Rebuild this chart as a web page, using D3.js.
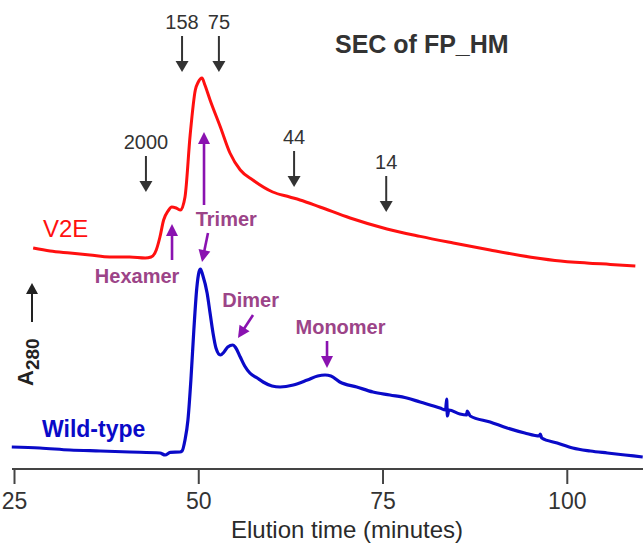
<!DOCTYPE html>
<html>
<head>
<meta charset="utf-8">
<script src="https://cdn.jsdelivr.net/npm/d3@7/dist/d3.min.js"></script>
<style>
  html, body { margin: 0; padding: 0; background: #fff; }
  svg { display: block; font-family: "Liberation Sans", Arial, sans-serif; }
</style>
</head>
<body>
<svg id="chart" width="643" height="545"></svg>
<script>
// Elution times (minutes) and A280 readings (arbitrary units) of the two SEC traces.
// The V2E trace is offset upward so both runs can be compared on one axis.
const wildTypeTime = [24.7, 28.5, 32.6, 36.7, 40.7, 44.8, 45.5, 46.2, 47.5, 47.8, 48.2, 48.6, 49.0, 49.4, 49.8, 50.1, 50.3, 50.6, 51.2, 51.6, 52.0, 52.4, 53.0, 53.5, 54.0, 54.7, 55.1, 55.7, 56.3, 57.0, 58.0, 58.8, 60.0, 61.1, 62.9, 64.8, 66.2, 67.2, 68.0, 69.2, 71.5, 73.7, 76.0, 78.3, 80.1, 82.8, 83.55, 83.7, 83.8, 84.0, 85.5, 86.4, 86.5, 86.9, 89.6, 91.9, 94.3, 96.3, 96.4, 96.6, 98.7, 100.8, 103.2, 105.5, 107.9, 110.3];
const wildTypeA280 = [11, 10.5, 9.5, 9, 8.5, 8, 7, 8.3, 8.5, 9, 14.5, 24.5, 44.5, 69.5, 90.5, 98.5, 100, 97, 88, 78, 68, 60.5, 57, 58.5, 61, 62, 60.5, 56, 51.5, 48, 45.5, 43.5, 41.5, 41, 42, 44.5, 46.5, 47, 46.5, 43.5, 41, 38.5, 37, 35.5, 33.5, 30.5, 29.5, 35, 26.5, 29.5, 27.5, 27, 29, 26.5, 23.5, 20.5, 18, 16.5, 17.5, 15.5, 13, 10.5, 9, 8, 7, 6];

const v2eTime = [27.6, 29.9, 32.6, 35.3, 38.0, 40.7, 42.8, 43.6, 44.3, 44.8, 45.3, 45.9, 46.4, 47.0, 47.6, 48.2, 48.9, 49.6, 50.0, 50.5, 50.9, 51.6, 53.0, 54.3, 55.7, 57.4, 60.1, 62.4, 63.8, 66.5, 70.6, 75.6, 80.1, 84.6, 89.6, 93.7, 98.4, 102.7, 105.9, 109.3];
const v2eA280 = [110.5, 109, 108, 107, 106, 106, 105.5, 106, 109.5, 116, 124.5, 129, 131, 130.5, 129.5, 136, 167, 189.5, 193.5, 195.5, 192, 184.5, 171, 158, 149.5, 144.5, 138.5, 136, 134.5, 131, 125.5, 120, 116.3, 113, 109.5, 106.8, 104.3, 103, 102.3, 101.5];

// Axis ticks
const xTicks = [25, 50, 75, 100];

// Molecular-mass standards (kDa) and their elution times
const standardLabels = ["2000", "158", "75", "44", "14"];
const standardTimes = [42.9, 47.8, 52.8, 63.0, 75.5];
const standardTipA280 = [138.5, 198.5, 198.5, 141, 128.5];

// Oligomeric species
const speciesLabels = ["Hexamer", "Trimer", "Dimer", "Monomer"];
const speciesLabelTime = [41.7, 53.8, 57.1, 69.3];
const speciesLabelA280 = [93, 121.5, 81, 67.5];

// Pointers to the species peaks: [tail time, tail A280, tip time, tip A280]
const speciesPointers = [
  [46.44, 104.5, 46.44, 122.5],
  [50.78, 132, 50.78, 168.5],
  [51.32, 118, 50.51, 103.5],
  [57.43, 77, 55.39, 65.5],
  [67.47, 64, 67.47, 50.5]
];

const svg = d3.select("#chart");
const W = 643, H = 545;
const axisY = 469;

const x = d3.scaleLinear().domain([25, 110]).range([14, 640.5]);
const y = d3.scaleLinear().domain([0, 220]).range([axisY, 29]);

// arrow helper: shaft from (x1,y1) with a filled triangular head whose tip is at (x2,y2)
function arrow(g, x1, y1, x2, y2, color, sw, hw, hl) {
  const dx = x2 - x1, dy = y2 - y1;
  const len = Math.hypot(dx, dy);
  const ux = dx / len, uy = dy / len;
  const bx = x2 - ux * hl, by = y2 - uy * hl;
  g.append("line")
    .attr("x1", x1).attr("y1", y1)
    .attr("x2", bx + ux * 1).attr("y2", by + uy * 1)
    .attr("stroke", color).attr("stroke-width", sw);
  const px = -uy, py = ux;
  g.append("path")
    .attr("d", `M${x2},${y2}L${bx + px * hw / 2},${by + py * hw / 2}L${bx - px * hw / 2},${by - py * hw / 2}Z`)
    .attr("fill", color);
}

// x axis
const axisG = svg.append("g").attr("transform", `translate(0,${axisY})`);
axisG.append("line")
  .attr("x1", 12).attr("x2", W)
  .attr("y1", 0).attr("y2", 0)
  .attr("stroke", "#444").attr("stroke-width", 2);
const xAxis = d3.axisBottom(x).tickValues(xTicks).tickSize(15).tickPadding(9).tickSizeOuter(0);
axisG.call(xAxis);
axisG.select(".domain").remove();
axisG.selectAll(".tick line").attr("stroke", "#444").attr("stroke-width", 2);
axisG.selectAll(".tick text")
  .attr("font-family", "'Liberation Sans', Arial, sans-serif")
  .attr("font-size", 23).attr("fill", "#333");

svg.append("text")
  .attr("x", 347).attr("y", 538)
  .attr("text-anchor", "middle")
  .attr("font-size", 24).attr("fill", "#2a2a2a")
  .text("Elution time (minutes)");

// traces
const line = d3.line().x(d => x(d[0])).y(d => y(d[1])).curve(d3.curveMonotoneX);
const wt = wildTypeTime.map((t, i) => [t, wildTypeA280[i]]);
const v2e = v2eTime.map((t, i) => [t, v2eA280[i]]);

svg.append("path").datum(v2e)
  .attr("d", line).attr("fill", "none")
  .attr("stroke", "#ff1010").attr("stroke-width", 3).attr("stroke-linejoin", "round");
svg.append("path").datum(wt)
  .attr("d", line).attr("fill", "none")
  .attr("stroke", "#0a0ac8").attr("stroke-width", 3.2).attr("stroke-linejoin", "round");

// standards
const stdG = svg.append("g");
standardLabels.forEach((lab, i) => {
  const sx = x(standardTimes[i]);
  const tip = y(standardTipA280[i]);
  arrow(stdG, sx, tip - 36, sx, tip, "#333", 2, 13, 11);
  stdG.append("text")
    .attr("x", sx).attr("y", tip - 43)
    .attr("text-anchor", "middle")
    .attr("font-size", 20).attr("fill", "#333")
    .text(lab);
});

// species pointers and labels
const spG = svg.append("g");
speciesPointers.forEach(p => {
  arrow(spG, x(p[0]), y(p[1]), x(p[2]), y(p[3]), "#8a12b0", 2.6, 12, 12);
});
speciesLabels.forEach((lab, i) => {
  spG.append("text")
    .attr("x", x(speciesLabelTime[i])).attr("y", y(speciesLabelA280[i]))
    .attr("text-anchor", "middle")
    .attr("font-size", 20).attr("font-weight", "bold")
    .attr("fill", "#9c4488")
    .text(lab);
});

// trace names
svg.append("text")
  .attr("x", 43).attr("y", 237)
  .attr("font-size", 24).attr("fill", "#ff1010")
  .text("V2E");
svg.append("text")
  .attr("x", 42).attr("y", 437)
  .attr("font-size", 23).attr("font-weight", "bold").attr("fill", "#0a0ac8")
  .text("Wild-type");

// title
svg.append("text")
  .attr("x", 335).attr("y", 53)
  .attr("font-size", 25).attr("font-weight", "bold").attr("fill", "#333")
  .text("SEC of FP_HM");

// y label with upward arrow
const yl = svg.append("g");
arrow(yl, 32, 322, 32, 283, "#222", 2, 12, 11);
const ylab = yl.append("text")
  .attr("transform", "translate(33,386) rotate(-90)")
  .attr("font-size", 22).attr("font-weight", "bold").attr("fill", "#222");
ylab.append("tspan").text("A");
ylab.append("tspan").attr("dy", 6).attr("font-size", 19).text("280");
</script>
</body>
</html>
